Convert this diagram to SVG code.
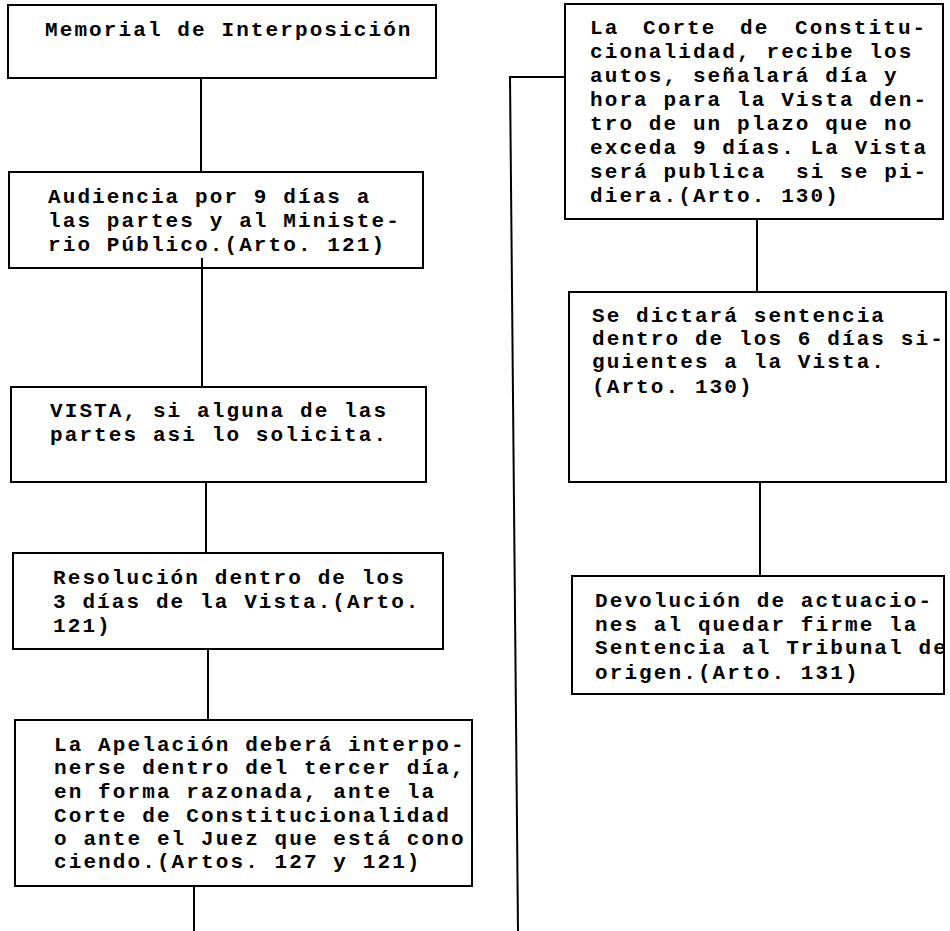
<svg xmlns="http://www.w3.org/2000/svg" width="950" height="931" viewBox="0 0 950 931">
<style>
.box{fill:#fff;stroke:#000;stroke-width:2}
.c{fill:none;stroke:#000;stroke-width:2}
text{font-family:"Liberation Mono","Courier New",monospace;font-weight:bold;font-size:21px;letter-spacing:2.1px;fill:#000;white-space:pre}
</style>
<rect width="950" height="931" fill="#fff"/>
<g id="connectors">
<line class="c" x1="201" y1="78" x2="201" y2="172"/>
<line class="c" x1="202" y1="258" x2="202" y2="387"/>
<line class="c" x1="206" y1="482" x2="206" y2="553"/>
<line class="c" x1="208" y1="649" x2="208" y2="720"/>
<line class="c" x1="194" y1="886" x2="194" y2="931"/>
<line class="c" x1="757" y1="219" x2="757" y2="292"/>
<line class="c" x1="760" y1="482" x2="760" y2="576"/>
<polyline class="c" points="565,77 510,77 518,931"/>
</g>
<g id="n1">
<rect class="box" x="8" y="5" width="428" height="73"/>
<text x="45" y="36">Memorial de Interposición</text>
</g>
<g id="n2">
<rect class="box" x="9" y="172" width="414" height="96"/>
<text x="48" y="203">Audiencia por 9 días a</text>
<text x="48" y="227">las partes y al Ministe-</text>
<text x="48" y="251">rio Público.(Arto. 121)</text>
<line class="c" x1="202" y1="258" x2="202" y2="268"/>
</g>
<g id="n3">
<rect class="box" x="11" y="387" width="415" height="95"/>
<text x="50" y="417">VISTA, si alguna de las</text>
<text x="50" y="441">partes asi lo solicita.</text>
</g>
<g id="n4">
<rect class="box" x="13" y="553" width="430" height="96"/>
<text x="53" y="584">Resolución dentro de los</text>
<text x="53" y="608">3 días de la Vista.(Arto.</text>
<text x="53" y="632">121)</text>
</g>
<g id="n5">
<rect class="box" x="15" y="720" width="457" height="166"/>
<text x="54" y="751">La Apelación deberá interpo-</text>
<text x="54" y="774">nerse dentro del tercer día,</text>
<text x="54" y="798">en forma razonada, ante la</text>
<text x="54" y="822">Corte de Constitucionalidad</text>
<text x="54" y="845">o ante el Juez que está cono</text>
<text x="54" y="868">ciendo.(Artos. 127 y 121)</text>
</g>
<g id="n6">
<rect class="box" x="565" y="4" width="378" height="215"/>
<text y="34"><tspan x="590">La</tspan><tspan x="643">Corte</tspan><tspan x="740">de</tspan><tspan x="795">Constitu-</tspan></text>
<text x="590" y="58">cionalidad, recibe los</text>
<text x="590" y="82">autos, señalará día y</text>
<text x="590" y="106">hora para la Vista den-</text>
<text x="590" y="130">tro de un plazo que no</text>
<text x="590" y="154">exceda 9 días. La Vista</text>
<text y="178"><tspan x="590">será publica</tspan><tspan x="796">si se pi-</tspan></text>
<text x="590" y="202">diera.(Arto. 130)</text>
</g>
<g id="n7">
<rect class="box" x="569" y="292" width="377" height="190"/>
<text x="592" y="322">Se dictará sentencia</text>
<text x="592" y="345">dentro de los 6 días si-</text>
<text x="592" y="368">guientes a la Vista.</text>
<text x="592" y="393">(Arto. 130)</text>
</g>
<g id="n8">
<rect class="box" x="572" y="576" width="372" height="118"/>
<text x="595" y="607">Devolución de actuacio-</text>
<text x="595" y="631">nes al quedar firme la</text>
<text x="595" y="654">Sentencia al Tribunal de</text>
<text x="595" y="679">origen.(Arto. 131)</text>
</g>
</svg>
